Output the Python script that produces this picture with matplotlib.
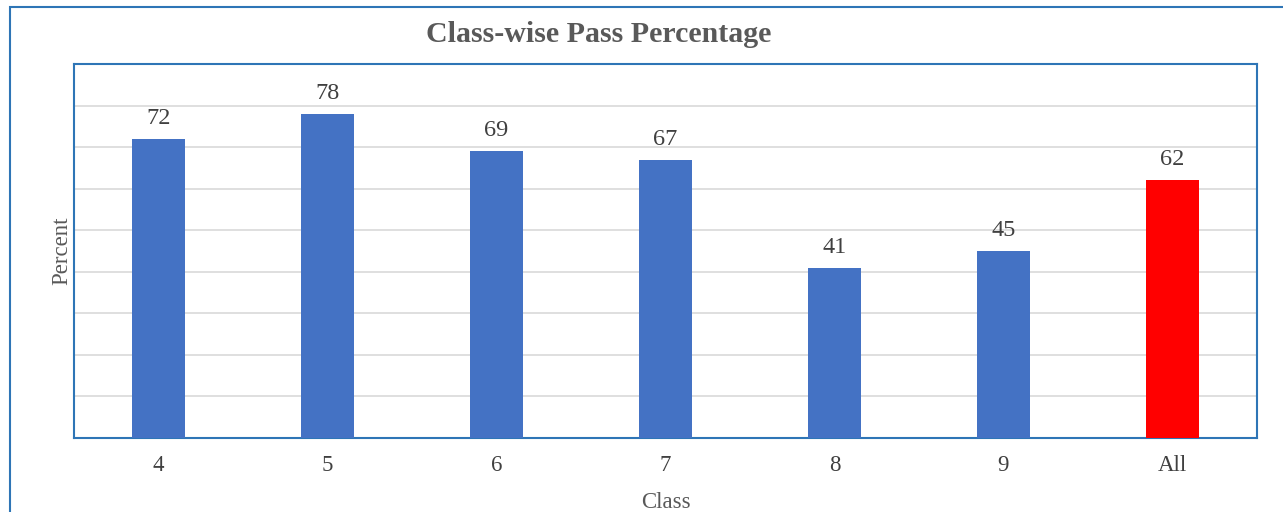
import matplotlib.pyplot as plt
from matplotlib.patches import Rectangle

classes = ['4', '5', '6', '7', '8', '9', 'All']
pass_pct = [72, 78, 69, 67, 41, 45, 62]
bar_colors = ['#4472C4'] * 6 + ['#FF0000']

plt.rcParams['font.family'] = ['Liberation Serif', 'DejaVu Serif']

fig = plt.figure(figsize=(12.83, 5.12), dpi=100)
# outer chart frame (cut off at the right and bottom like the reference)
fig.patches.append(Rectangle((10 / 1283, -0.1), 1.2, 1 - 7 / 512 + 0.1,
                             transform=fig.transFigure, fill=False,
                             edgecolor='#2E75B6', linewidth=1.5))

ax = fig.add_axes([74 / 1283, 1 - 438 / 512, (1257 - 74) / 1283, (438 - 64) / 512])
x = range(len(classes))
bars = ax.bar(x, pass_pct, width=0.31, color=bar_colors, zorder=3)
for b, v in zip(bars, pass_pct):
    ax.text(b.get_x() + b.get_width() / 2, v + 2.4, str(v), ha='center',
            va='bottom', fontsize=17.5, color='#404040')

ax.set_xlim(-0.5, len(classes) - 0.5)
ax.set_ylim(0, 90)
ax.set_yticks(range(0, 91, 10))
ax.set_yticklabels([])
ax.tick_params(axis='y', length=0)
ax.tick_params(axis='x', length=0, labelsize=16.5, labelcolor='#404040', pad=12)
ax.set_xticks(list(x))
ax.set_xticklabels(classes)
ax.grid(axis='y', color='#D9D9D9', linewidth=1.2, zorder=0)
for s in ax.spines.values():
    s.set_color('#2E75B6')
    s.set_linewidth(1.5)

ax.set_xlabel('Class', fontsize=16.5, color='#595959', labelpad=12)
ax.set_ylabel('Percent', fontsize=16.5, color='#595959', labelpad=-2)
fig.text(0.467, 1 - 35 / 512, 'Class-wise Pass Percentage', ha='center',
         va='center', fontsize=21.5, fontweight='bold', color='#595959')

fig.savefig('out.png', dpi=100)
